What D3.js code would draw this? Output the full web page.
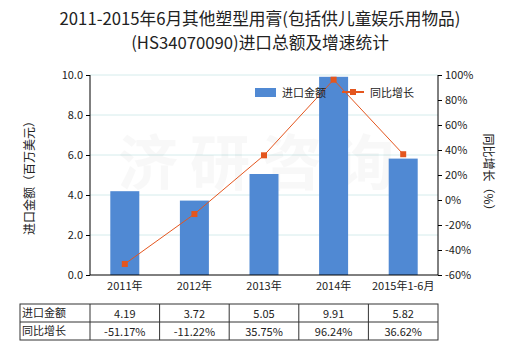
<!DOCTYPE html>
<html><head><meta charset="utf-8">
<script src="https://cdn.jsdelivr.net/npm/d3@7"></script>
<style>body{margin:0;background:#fff;}svg{display:block;font-family:"Microsoft YaHei","Noto Sans CJK SC",sans-serif;}</style>
</head><body>
<svg id="c" width="520" height="350"></svg>
<script>
const categories = ["2011年","2012年","2013年","2014年","2015年1-6月"];
const importValues = [4.19, 3.72, 5.05, 9.91, 5.82];
const growthValues = [-51.17, -11.22, 35.75, 96.24, 36.62];
const importLabels = ["4.19","3.72","5.05","9.91","5.82"];
const growthLabels = ["-51.17%","-11.22%","35.75%","96.24%","36.62%"];
const leftTicks = [0,2,4,6,8,10];
const rightTicks = [-60,-40,-20,0,20,40,60,80,100];
const titleLines = ["2011-2015年6月其他塑型用膏(包括供儿童娱乐用物品)","(HS34070090)进口总额及增速统计"];

const svg = d3.select("#c");
const L = 90, R = 438, T = 75, B = 275;
const x = d3.scaleBand().domain(categories).range([L, R]);
const yL = d3.scaleLinear().domain([0, 10]).range([B, T]);
const yR = d3.scaleLinear().domain([-60, 100]).range([B, T]);
const barColor = "#5089d3", lineColor = "#e4561e";

// title
svg.selectAll("text.title").data(titleLines).join("text")
  .attr("x", 260).attr("y", (d,i)=>25 + i*24).attr("text-anchor","middle")
  .attr("font-size", 16.7).attr("fill","#222").text(d=>d);

// grid
svg.append("g").selectAll("line").data(leftTicks.slice(1)).join("line")
  .attr("x1", L).attr("x2", R).attr("y1", d=>yL(d)).attr("y2", d=>yL(d))
  .attr("stroke","#d5ecec").attr("stroke-width",1);

// watermark
svg.append("text").attr("x", 262).attr("y", 185).attr("text-anchor","middle")
  .attr("font-size", 60).attr("font-weight","bold").attr("fill","#000").attr("opacity",0.025)
  .attr("letter-spacing", 12).text("济研咨询");

// bars
const bw = 29;
svg.append("g").selectAll("rect").data(importValues).join("rect")
  .attr("x", (d,i)=>x(categories[i]) + x.bandwidth()/2 - bw/2)
  .attr("y", d=>yL(d)).attr("width", bw).attr("height", d=>B - yL(d))
  .attr("fill", barColor);

// line
const line = d3.line().x((d,i)=>x(categories[i]) + x.bandwidth()/2).y(d=>yR(d));
svg.append("path").datum(growthValues).attr("d", line).attr("fill","none")
  .attr("stroke", lineColor).attr("stroke-width", 1);
svg.append("g").selectAll("rect").data(growthValues).join("rect")
  .attr("x", (d,i)=>x(categories[i]) + x.bandwidth()/2 - 3)
  .attr("y", d=>yR(d) - 3).attr("width", 6).attr("height", 6).attr("fill", lineColor);

// axes
const axL = svg.append("g").attr("transform", `translate(${L},0)`)
  .call(d3.axisLeft(yL).tickValues(leftTicks).tickFormat(d3.format(".1f")).tickSize(4).tickSizeOuter(0));
const axR = svg.append("g").attr("transform", `translate(${R},0)`)
  .call(d3.axisRight(yR).tickValues(rightTicks).tickFormat(d=>d+"%").tickSize(4).tickSizeOuter(0));
const axB = svg.append("g").attr("transform", `translate(0,${B})`)
  .call(d3.axisBottom(x).tickSize(0).tickSizeOuter(0));
[axL, axR, axB].forEach(a=>{
  a.selectAll("path").attr("stroke","#000");
  a.selectAll("line").attr("stroke","#000");
  a.selectAll("text").attr("font-size", 11).attr("fill","#222").attr("font-family","Microsoft YaHei, Noto Sans CJK SC, sans-serif");
});
axL.select("path").attr("d", `M0,${T}V${B}`);
axR.select("path").attr("d", `M0,${T}V${B}`);
axB.selectAll("text").attr("dy", "1.1em");
axB.select("path").attr("d", `M${L},0H${R}`);

// axis titles
svg.append("text").attr("transform", `translate(34,${(T+B)/2}) rotate(-90)`)
  .attr("text-anchor","middle").attr("font-size", 12).attr("fill","#222").text("进口金额（百万美元）");
svg.append("text").attr("transform", `translate(484,${(T+B)/2}) rotate(90)`)
  .attr("text-anchor","middle").attr("font-size", 12).attr("fill","#222").text("同比增长（%）");

// legend
svg.append("rect").attr("x", 255).attr("y", 88).attr("width", 21).attr("height", 9).attr("fill", barColor);
svg.append("text").attr("x", 282).attr("y", 97).attr("font-size", 11).attr("fill","#222").text("进口金额");
svg.append("line").attr("x1", 342).attr("x2", 364).attr("y1", 92).attr("y2", 92).attr("stroke", lineColor).attr("stroke-width", 2);
svg.append("rect").attr("x", 350).attr("y", 89).attr("width", 6).attr("height", 6).attr("fill", lineColor);
svg.append("text").attr("x", 370).attr("y", 97).attr("font-size", 11).attr("fill","#222").text("同比增长");

// table
const tT = 304, tM = 322, tB = 340, tL = 20;
const tg = svg.append("g");
tg.append("rect").attr("x", tL).attr("y", tT).attr("width", R - tL).attr("height", tB - tT)
  .attr("fill","none").attr("stroke","#333").attr("stroke-width",1);
tg.append("line").attr("x1", tL).attr("x2", R).attr("y1", tM).attr("y2", tM).attr("stroke","#333");
const colEdges = [L].concat(categories.slice(1).map(c=>x(c)));
tg.selectAll("line.v").data(colEdges).join("line").attr("class","v")
  .attr("x1", d=>d).attr("x2", d=>d).attr("y1", tT).attr("y2", tB).attr("stroke","#333");
tg.append("text").attr("x", tL+2).attr("y", tT+13).attr("font-size", 11).attr("fill","#222").text("进口金额");
tg.append("text").attr("x", tL+2).attr("y", tM+13).attr("font-size", 11).attr("fill","#222").text("同比增长");
tg.selectAll("text.r1").data(importLabels).join("text").attr("class","r1")
  .attr("x", (d,i)=>x(categories[i]) + x.bandwidth()/2).attr("y", tT+14)
  .attr("text-anchor","middle").attr("font-size", 11).attr("fill","#222").text(d=>d);
tg.selectAll("text.r2").data(growthLabels).join("text").attr("class","r2")
  .attr("x", (d,i)=>x(categories[i]) + x.bandwidth()/2).attr("y", tM+14)
  .attr("text-anchor","middle").attr("font-size", 11).attr("fill","#222").text(d=>d);
</script>
</body></html>
